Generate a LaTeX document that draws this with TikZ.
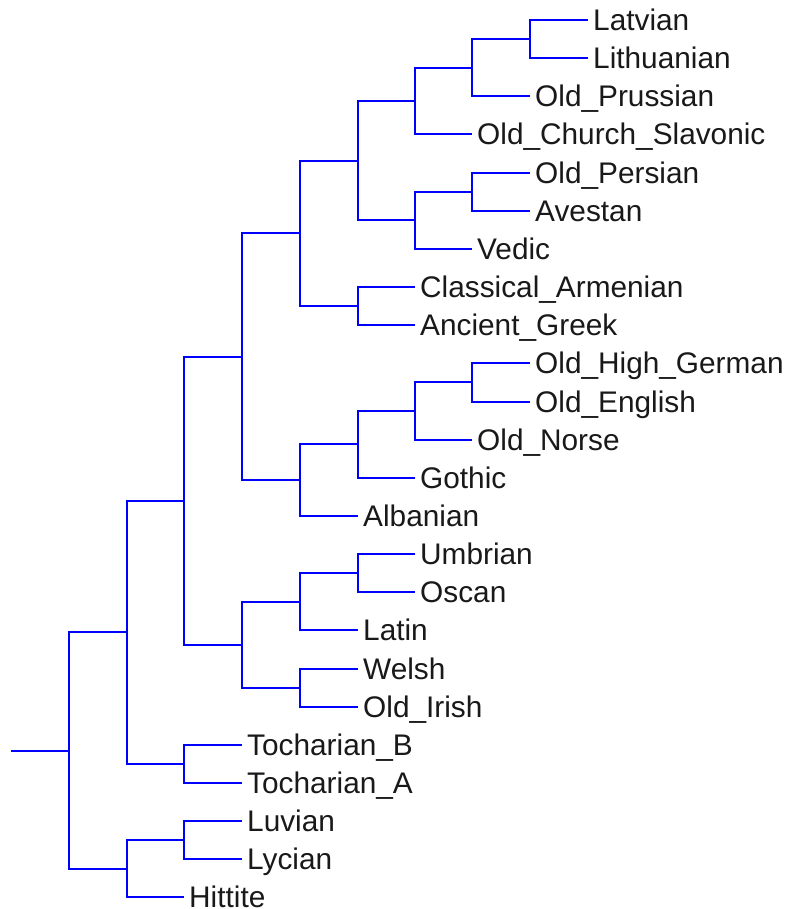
\documentclass[tikz,border=0pt]{standalone}
\usepackage{fontspec}
\setmainfont{Liberation Sans}
\begin{document}
\begin{tikzpicture}[x=1pt,y=-1pt,
  branch/.style={draw={rgb,255:red,0;green,0;blue,255},line width=2pt},
  leaf/.style={anchor=west,inner xsep=5pt,inner ysep=0pt,
    font=\fontsize{29.8}{36}\selectfont,text height=22.4pt,text depth=1pt,
    text={rgb,255:red,25;green,25;blue,25}}]
\useasboundingbox (0,0) rectangle (787,909);
% leaves
\node[leaf] (latv) at (588,20) {Latvian};
\node[leaf] (lith) at (588,58) {Lithuanian};
\node[leaf] (opru) at (530,96) {Old\_Prussian};
\node[leaf] (ocs) at (472,134) {Old\_Church\_Slavonic};
\node[leaf] (oper) at (530,173) {Old\_Persian};
\node[leaf] (aves) at (530,211) {Avestan};
\node[leaf] (vedi) at (472,249) {Vedic};
\node[leaf] (arme) at (415,287) {Classical\_Armenian};
\node[leaf] (gree) at (415,325) {Ancient\_Greek};
\node[leaf] (ohg) at (530,363) {Old\_High\_German};
\node[leaf] (oeng) at (530,402) {Old\_English};
\node[leaf] (onor) at (472,440) {Old\_Norse};
\node[leaf] (goth) at (415,478) {Gothic};
\node[leaf] (alba) at (358,516) {Albanian};
\node[leaf] (umbr) at (415,554) {Umbrian};
\node[leaf] (osca) at (415,592) {Oscan};
\node[leaf] (lati) at (358,630) {Latin};
\node[leaf] (wels) at (358,669) {Welsh};
\node[leaf] (oiri) at (358,707) {Old\_Irish};
\node[leaf] (tocb) at (242,745) {Tocharian\_B};
\node[leaf] (toca) at (242,783) {Tocharian\_A};
\node[leaf] (luvi) at (242,821) {Luvian};
\node[leaf] (lyci) at (242,859) {Lycian};
\node[leaf] (hitt) at (184,897) {Hittite};
% internal nodes
\coordinate (latlith) at (530,39);
\coordinate (baltic) at (472,68);
\coordinate (balsla) at (415,101);
\coordinate (iran) at (472,192);
\coordinate (indir) at (415,220);
\coordinate (nE) at (358,161);
\coordinate (armgr) at (358,306);
\coordinate (nD) at (300,233);
\coordinate (ohgoe) at (472,382);
\coordinate (nH) at (415,411);
\coordinate (germ) at (358,444);
\coordinate (nG) at (300,480);
\coordinate (nC) at (242,357);
\coordinate (umbosc) at (358,573);
\coordinate (ital) at (300,602);
\coordinate (celt) at (300,688);
\coordinate (itcel) at (242,645);
\coordinate (nB) at (184,501);
\coordinate (toch) at (184,764);
\coordinate (nA) at (127,632);
\coordinate (luvlyc) at (184,840);
\coordinate (anat) at (127,869);
\coordinate (root) at (69,751);
\coordinate (stub) at (11,751);
% connectors
\draw[branch] (stub) -- (root);
\draw[branch] (root) |- (nA);
\draw[branch] (root) |- (anat);
\draw[branch] (anat) |- (luvlyc);
\draw[branch] (anat) |- (hitt.west);
\draw[branch] (luvlyc) |- (luvi.west);
\draw[branch] (luvlyc) |- (lyci.west);
\draw[branch] (nA) |- (nB);
\draw[branch] (nA) |- (toch);
\draw[branch] (toch) |- (tocb.west);
\draw[branch] (toch) |- (toca.west);
\draw[branch] (nB) |- (nC);
\draw[branch] (nB) |- (itcel);
\draw[branch] (itcel) |- (ital);
\draw[branch] (itcel) |- (celt);
\draw[branch] (celt) |- (wels.west);
\draw[branch] (celt) |- (oiri.west);
\draw[branch] (ital) |- (umbosc);
\draw[branch] (ital) |- (lati.west);
\draw[branch] (umbosc) |- (umbr.west);
\draw[branch] (umbosc) |- (osca.west);
\draw[branch] (nC) |- (nD);
\draw[branch] (nC) |- (nG);
\draw[branch] (nG) |- (germ);
\draw[branch] (nG) |- (alba.west);
\draw[branch] (germ) |- (nH);
\draw[branch] (germ) |- (goth.west);
\draw[branch] (nH) |- (ohgoe);
\draw[branch] (nH) |- (onor.west);
\draw[branch] (ohgoe) |- (ohg.west);
\draw[branch] (ohgoe) |- (oeng.west);
\draw[branch] (nD) |- (nE);
\draw[branch] (nD) |- (armgr);
\draw[branch] (armgr) |- (arme.west);
\draw[branch] (armgr) |- (gree.west);
\draw[branch] (nE) |- (balsla);
\draw[branch] (nE) |- (indir);
\draw[branch] (indir) |- (iran);
\draw[branch] (indir) |- (vedi.west);
\draw[branch] (iran) |- (oper.west);
\draw[branch] (iran) |- (aves.west);
\draw[branch] (balsla) |- (baltic);
\draw[branch] (balsla) |- (ocs.west);
\draw[branch] (baltic) |- (latlith);
\draw[branch] (baltic) |- (opru.west);
\draw[branch] (latlith) |- (latv.west);
\draw[branch] (latlith) |- (lith.west);
\end{tikzpicture}
\end{document}
